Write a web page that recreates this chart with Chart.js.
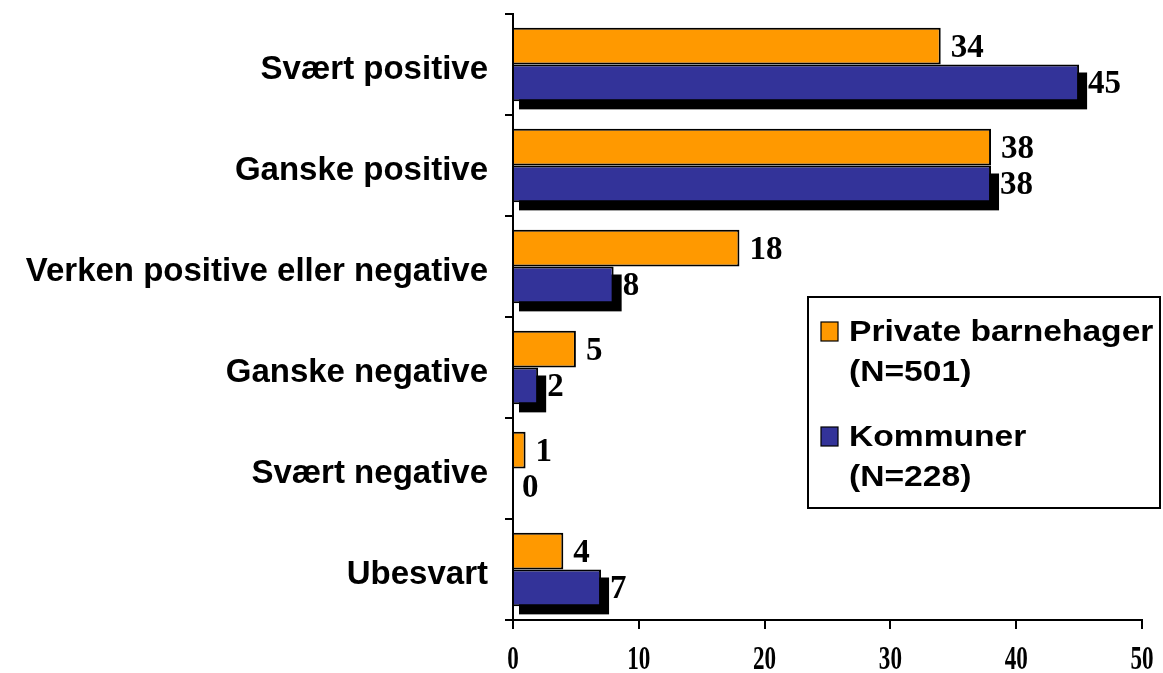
<!DOCTYPE html>
<html>
<head>
<meta charset="utf-8">
<script src="https://cdn.jsdelivr.net/npm/chart.js@4/dist/chart.umd.min.js"></script>
<style>
html,body{margin:0;padding:0;background:#fff;}
#wrap{width:1163px;height:673px;position:relative;}
</style>
</head>
<body>
<div id="wrap"><canvas id="c" width="1163" height="673"></canvas></div>
<script>
const categories = ["Svært positive","Ganske positive","Verken positive eller negative","Ganske negative","Svært negative","Ubesvart"];
const privateValues = [34,38,18,5,1,4];
const kommunerValues = [45,38,8,2,0,7];
const seriesNames = [["Private barnehager","(N=501)"],["Kommuner","(N=228)"]];
const xTicks = [0,10,20,30,40,50];

const ORANGE = "#FF9900", NAVY = "#333399";

const shadowPlugin = {
  id: "shadow",
  beforeDatasetDraw(chart, args) {
    if (args.index !== 1) return;
    const ctx = chart.ctx;
    const meta = chart.getDatasetMeta(1);
    ctx.save();
    ctx.fillStyle = "#000";
    meta.data.forEach(el => {
      const p = el.getProps(["x","y","base","height"], true);
      const w = p.x - p.base;
      if (w <= 0) return;
      ctx.fillRect(p.base + 5, p.y - p.height/2 + 8, w + 3, p.height);
    });
    ctx.restore();
  }
};

const labelPlugin = {
  id: "vals",
  afterDatasetsDraw(chart) {
    const ctx = chart.ctx;
    ctx.save();
    ctx.font = "bold 33px 'Liberation Serif'";
    ctx.fillStyle = "#000";
    ctx.textBaseline = "middle";
    ctx.textAlign = "left";
    chart.data.datasets.forEach((ds, di) => {
      const meta = chart.getDatasetMeta(di);
      meta.data.forEach((el, i) => {
        const p = el.getProps(["x","y"], true);
        const off = di === 1 ? 9 : 10;
        ctx.fillText(String(ds.data[i]), p.x + off, p.y + 2);
      });
    });
    // x tick labels (condensed as in the reference)
    const xs = chart.scales.x;
    ctx.font = "bold 33px 'Liberation Serif'";
    ctx.textAlign = "center";
    ctx.textBaseline = "middle";
    xs.ticks.forEach(t => {
      const px = xs.getPixelForValue(t.value);
      ctx.save();
      ctx.translate(px, 660);
      ctx.scale(0.7, 1);
      ctx.fillText(String(t.value), 0, 0);
      ctx.restore();
    });
    ctx.restore();
  }
};

const legendPlugin = {
  id: "boxLegend",
  afterDraw(chart) {
    const ctx = chart.ctx;
    ctx.save();
    const bx = 808, by = 297, bw = 352, bh = 211;
    ctx.fillStyle = "#fff";
    ctx.fillRect(bx, by, bw, bh);
    ctx.lineWidth = 2;
    ctx.strokeStyle = "#000";
    ctx.strokeRect(bx, by, bw, bh);
    const rows = [332, 437];
    chart.data.datasets.forEach((ds, di) => {
      const y = rows[di];
      ctx.fillStyle = ds.backgroundColor;
      ctx.fillRect(821, y - 10, 17, 19);
      ctx.lineWidth = 1.2;
      ctx.strokeRect(821, y - 10, 17, 19);
      ctx.fillStyle = "#000";
      ctx.font = "bold 30px 'Liberation Sans'";
      ctx.textBaseline = "middle";
      ctx.textAlign = "left";
      [0,1].forEach(li => {
        ctx.save();
        ctx.translate(849, y + 1 + li * 40);
        ctx.scale(1.12, 1);
        ctx.fillText(seriesNames[di][li], 0, 0);
        ctx.restore();
      });
    });
    ctx.restore();
  }
};

new Chart(document.getElementById("c"), {
  type: "bar",
  data: {
    labels: categories,
    datasets: [
      { label: seriesNames[0].join(" "), data: privateValues, backgroundColor: ORANGE, borderColor: "#000", borderWidth: 2, barPercentage: 1, categoryPercentage: 0.73 },
      { label: seriesNames[1].join(" "), data: kommunerValues, backgroundColor: NAVY, borderColor: "#000", borderWidth: 2, barPercentage: 1, categoryPercentage: 0.73 }
    ]
  },
  options: {
    indexAxis: "y",
    responsive: false,
    animation: false,
    layout: { padding: { left: 0, right: 21, top: 14, bottom: 0 } },
    plugins: { legend: { display: false }, tooltip: { enabled: false } },
    scales: {
      x: {
        min: 0, max: 50,
        afterBuildTicks(scale) { scale.ticks = xTicks.map(v => ({ value: v })); },
        afterFit(scale) { scale.height = 53; scale.paddingLeft = 0; scale.paddingRight = 0; },
        grid: { drawOnChartArea: false, color: "#000", lineWidth: 2, tickLength: 9, tickColor: "#000" },
        border: { color: "#000", width: 2 },
        ticks: { display: true, color: "rgba(0,0,0,0)", font: { family: "'Liberation Serif'", weight: "bold", size: 20 }, padding: 10 }
      },
      y: {
        afterFit(scale) { scale.width = 513; scale.paddingTop = 0; scale.paddingBottom = 0; },
        grid: { drawOnChartArea: false, color: "#000", lineWidth: 2, tickLength: 8, tickColor: "#000", offset: true },
        border: { color: "#000", width: 2 },
        ticks: { color: "#000", font: { family: "'Liberation Sans'", weight: "bold", size: 33 }, padding: 17, labelOffset: 5 }
      }
    }
  },
  plugins: [shadowPlugin, labelPlugin, legendPlugin]
});
</script>
</body>
</html>
